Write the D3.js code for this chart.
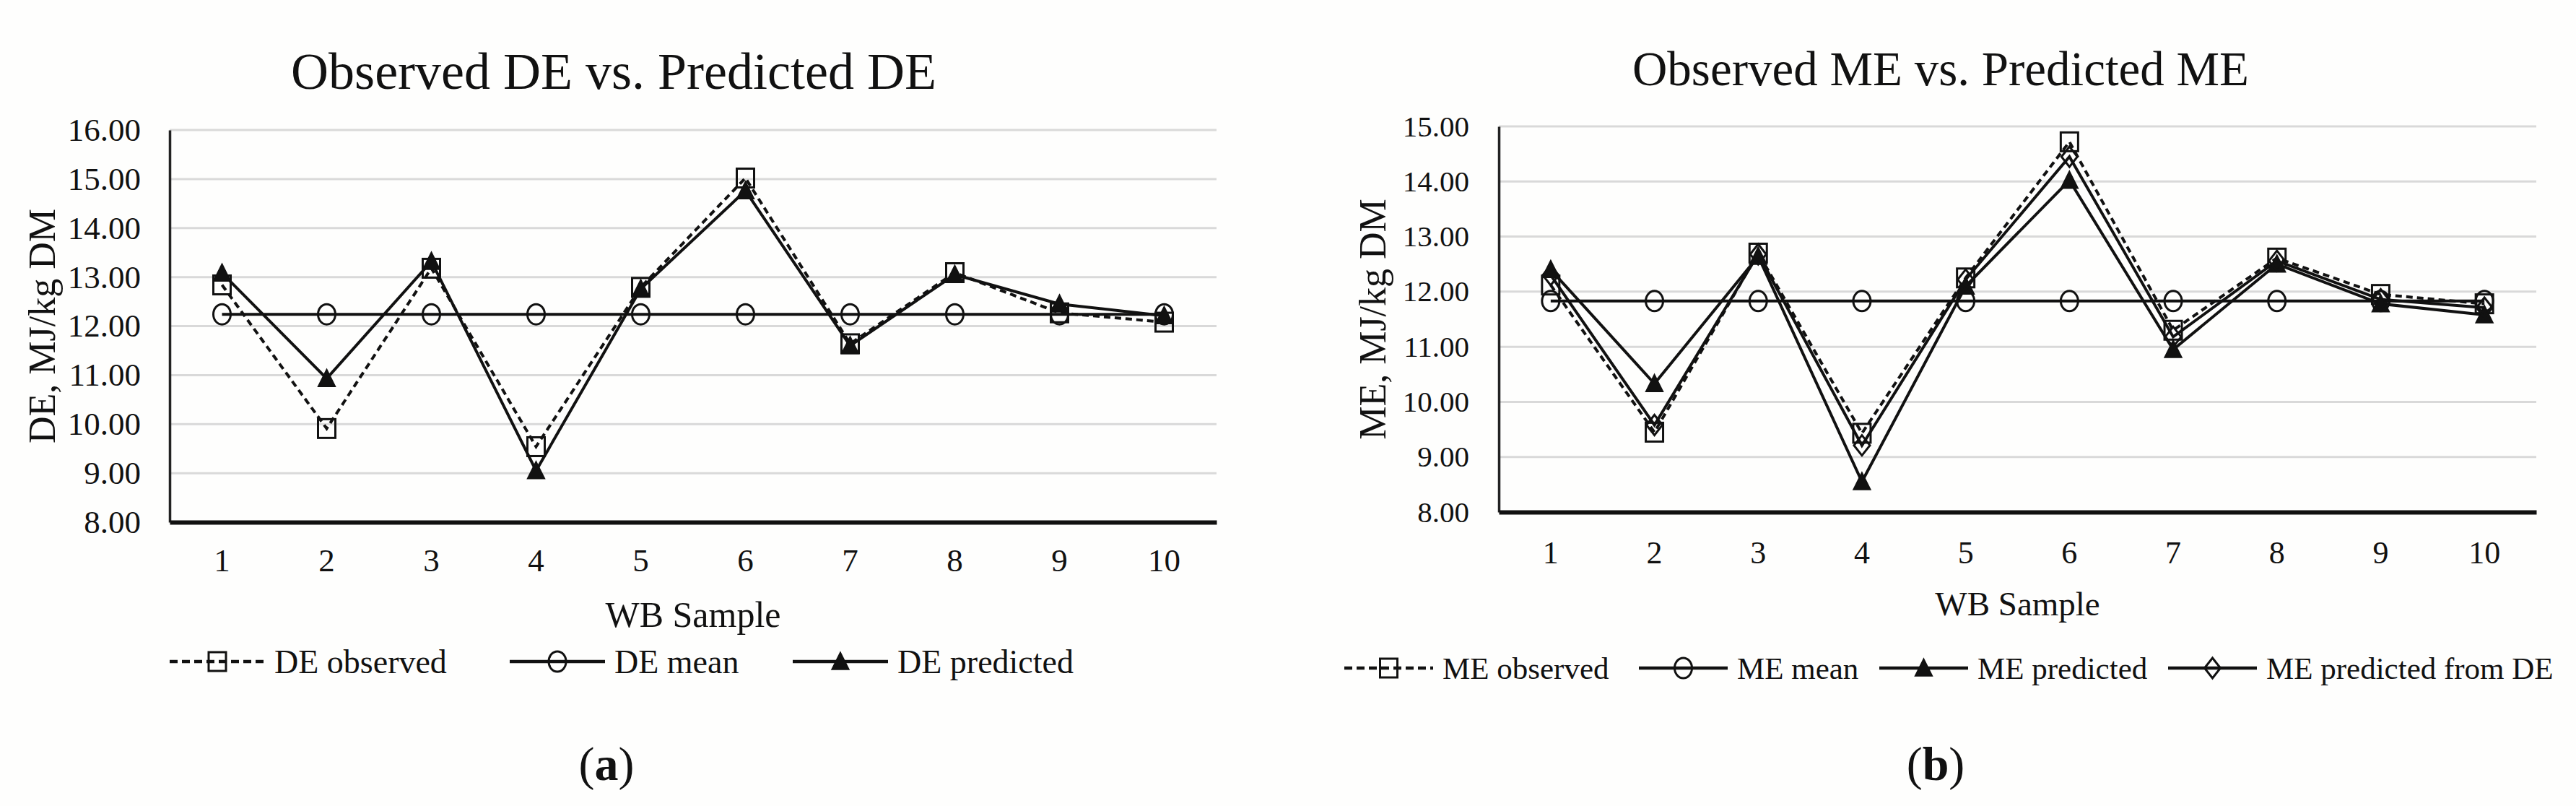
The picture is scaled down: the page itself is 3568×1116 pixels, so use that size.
<!DOCTYPE html>
<html>
<head>
<meta charset="utf-8">
<script src="https://cdn.jsdelivr.net/npm/d3@7"></script>
<style>
  body { margin: 0; background: #ffffff; }
  text { font-family: "Liberation Serif", "Times New Roman", serif; fill: #111; }
</style>
</head>
<body>
<div id="chart"></div>
<script>
// DATA

const samples = ["1", "2", "3", "4", "5", "6", "7", "8", "9", "10"];

const deObserved  = [12.84, 9.91, 13.18, 9.54, 12.79, 15.02, 11.64, 13.09, 12.27, 12.08];
const deMean      = [12.24, 12.24, 12.24, 12.24, 12.24, 12.24, 12.24, 12.24, 12.24, 12.24];
const dePredicted = [13.08, 10.93, 13.32, 9.05, 12.76, 14.76, 11.60, 13.05, 12.45, 12.21];

const meObserved        = [12.12, 9.45, 12.70, 9.43, 12.25, 14.72, 11.30, 12.61, 11.95, 11.78];
const meMean            = [11.83, 11.83, 11.83, 11.83, 11.83, 11.83, 11.83, 11.83, 11.83, 11.83];
const mePredicted       = [12.40, 10.33, 12.64, 8.55, 12.10, 14.02, 10.95, 12.50, 11.78, 11.58];
const mePredictedFromDE = [12.30, 9.58, 12.68, 9.21, 12.22, 14.45, 11.18, 12.56, 11.86, 11.71];

const deTicks = [8, 9, 10, 11, 12, 13, 14, 15, 16];
const meTicks = [8, 9, 10, 11, 12, 13, 14, 15];

// SETUP

const W = 3568, H = 1116;

const svg = d3.select("#chart")
  .append("svg")
  .attr("width", W)
  .attr("height", H)
  .style("background-color", "#fefefd");

const panels = [
  {
    left: 235, right: 1685, top: 180, bottom: 723,
    ticks: deTicks, tickRight: 195,
    title: "Observed DE vs. Predicted DE", titleX: 850, titleY: 123, titleSize: 72,
    yLabel: "DE, MJ/kg DM", yLabelX: 76,
    xLabelY: 868, tickLabelY: 791,
    yTickSize: 45, xTickSize: 45, xLabelSize: 50, legendSize: 46,
    legendY: 916, legendLine: 132, legendX: [235, 706, 1098],
    caption: "a", captionX: 840,
    series: [
      { name: "DE observed", values: deObserved, dash: true, marker: "square" },
      { name: "DE mean", values: deMean, marker: "circle" },
      { name: "DE predicted", values: dePredicted, marker: "triangle" }
    ]
  },
  {
    left: 2076, right: 3513, top: 175, bottom: 709,
    ticks: meTicks, tickRight: 2035,
    title: "Observed ME vs. Predicted ME", titleX: 2688, titleY: 118, titleSize: 67,
    yLabel: "ME, MJ/kg DM", yLabelX: 1919,
    xLabelY: 852, tickLabelY: 781,
    yTickSize: 41, xTickSize: 44, xLabelSize: 47, legendSize: 43,
    legendY: 925, legendLine: 123, legendX: [1862, 2270, 2603, 3003],
    caption: "b", captionX: 2681,
    series: [
      { name: "ME observed", values: meObserved, dash: true, marker: "square" },
      { name: "ME mean", values: meMean, marker: "circle" },
      { name: "ME predicted", values: mePredicted, marker: "triangle" },
      { name: "ME predicted from DE", values: mePredictedFromDE, marker: "diamond" }
    ]
  }
];

// draw one marker centred on (x, y)
function drawMarker(g, type, x, y) {
  if (type === "square") {
    g.append("rect")
      .attr("x", x - 12).attr("y", y - 13)
      .attr("width", 24).attr("height", 26)
      .attr("fill", "none").attr("stroke", "#111").attr("stroke-width", 3);
  } else if (type === "circle") {
    g.append("ellipse")
      .attr("cx", x).attr("cy", y)
      .attr("rx", 12).attr("ry", 14)
      .attr("fill", "none").attr("stroke", "#111").attr("stroke-width", 3);
  } else if (type === "triangle") {
    g.append("path")
      .attr("d", `M${x},${y - 13}L${x + 12},${y + 11}L${x - 12},${y + 11}Z`)
      .attr("fill", "#111").attr("stroke", "#111").attr("stroke-width", 1.5);
  } else if (type === "diamond") {
    g.append("path")
      .attr("d", `M${x},${y - 14}L${x + 11},${y}L${x},${y + 14}L${x - 11},${y}Z`)
      .attr("fill", "none").attr("stroke", "#111").attr("stroke-width", 3);
  }
}

panels.forEach(p => {
  const g = svg.append("g");

  const x = d3.scaleBand()
    .domain(samples)
    .range([p.left, p.right]);

  const y = d3.scaleLinear()
    .domain([d3.min(p.ticks), d3.max(p.ticks)])
    .range([p.bottom, p.top]);

  // horizontal gridlines
  g.append("g")
    .selectAll("line")
    .data(p.ticks.slice(1))
    .join("line")
    .attr("x1", p.left).attr("x2", p.right)
    .attr("y1", d => y(d)).attr("y2", d => y(d))
    .attr("stroke", "#d9d9d9")
    .attr("stroke-width", 3);

  // y axis
  const yAxis = g.append("g")
    .attr("transform", `translate(${p.left},0)`)
    .call(d3.axisLeft(y).tickValues(p.ticks).tickFormat(d3.format(".2f")).tickSize(0).tickPadding(p.left - p.tickRight));
  yAxis.select(".domain").attr("stroke", "#222").attr("stroke-width", 3.5);
  yAxis.selectAll("text")
    .style("font-size", p.yTickSize + "px")
    .style("font-family", '"Liberation Serif", serif')
    .attr("fill", "#111");

  // x axis
  const xAxis = g.append("g")
    .attr("transform", `translate(0,${p.bottom})`)
    .call(d3.axisBottom(x).tickSize(0).tickPadding(p.tickLabelY - p.bottom - 32));
  xAxis.select(".domain").attr("stroke", "#111").attr("stroke-width", 6);
  xAxis.selectAll("text")
    .style("font-size", p.xTickSize + "px")
    .style("font-family", '"Liberation Serif", serif')
    .attr("fill", "#111");

  // series lines
  const line = d3.line()
    .x((d, i) => x(samples[i]) + x.bandwidth() / 2)
    .y(d => y(d));

  p.series.forEach(s => {
    g.append("path")
      .datum(s.values)
      .attr("d", line)
      .attr("fill", "none")
      .attr("stroke", "#111")
      .attr("stroke-width", 4)
      .attr("stroke-dasharray", s.dash ? "9,6" : null);
  });

  // series markers (drawn after all lines)
  p.series.forEach(s => {
    const mg = g.append("g");
    s.values.forEach((v, i) => {
      drawMarker(mg, s.marker, x(samples[i]) + x.bandwidth() / 2, y(v));
    });
  });

  // chart title
  g.append("text")
    .attr("x", p.titleX).attr("y", p.titleY)
    .attr("text-anchor", "middle")
    .style("font-size", p.titleSize + "px")
    .text(p.title);

  // y axis title
  g.append("text")
    .attr("transform", `translate(${p.yLabelX},${(p.top + p.bottom) / 2}) rotate(-90)`)
    .attr("text-anchor", "middle")
    .style("font-size", "52px")
    .text(p.yLabel);

  // x axis title
  g.append("text")
    .attr("x", (p.left + p.right) / 2).attr("y", p.xLabelY)
    .attr("text-anchor", "middle")
    .style("font-size", p.xLabelSize + "px")
    .text("WB Sample");

  // legend
  p.series.forEach((s, i) => {
    const lx = p.legendX[i];
    const lg = g.append("g");
    lg.append("line")
      .attr("x1", lx).attr("x2", lx + p.legendLine)
      .attr("y1", p.legendY).attr("y2", p.legendY)
      .attr("stroke", "#111")
      .attr("stroke-width", 4.5)
      .attr("stroke-dasharray", s.dash ? "11,6" : null);
    drawMarker(lg, s.marker, lx + p.legendLine / 2, p.legendY);
    lg.append("text")
      .attr("x", lx + p.legendLine + 13)
      .attr("y", p.legendY)
      .attr("dy", "0.35em")
      .style("font-size", p.legendSize + "px")
      .text(s.name);
  });

  // panel caption
  const cap = g.append("text")
    .attr("x", p.captionX).attr("y", 1080)
    .attr("text-anchor", "middle")
    .style("font-size", "66px");
  cap.append("tspan").text("(");
  cap.append("tspan").style("font-weight", "bold").text(p.caption);
  cap.append("tspan").text(")");
});
</script>
</body>
</html>
